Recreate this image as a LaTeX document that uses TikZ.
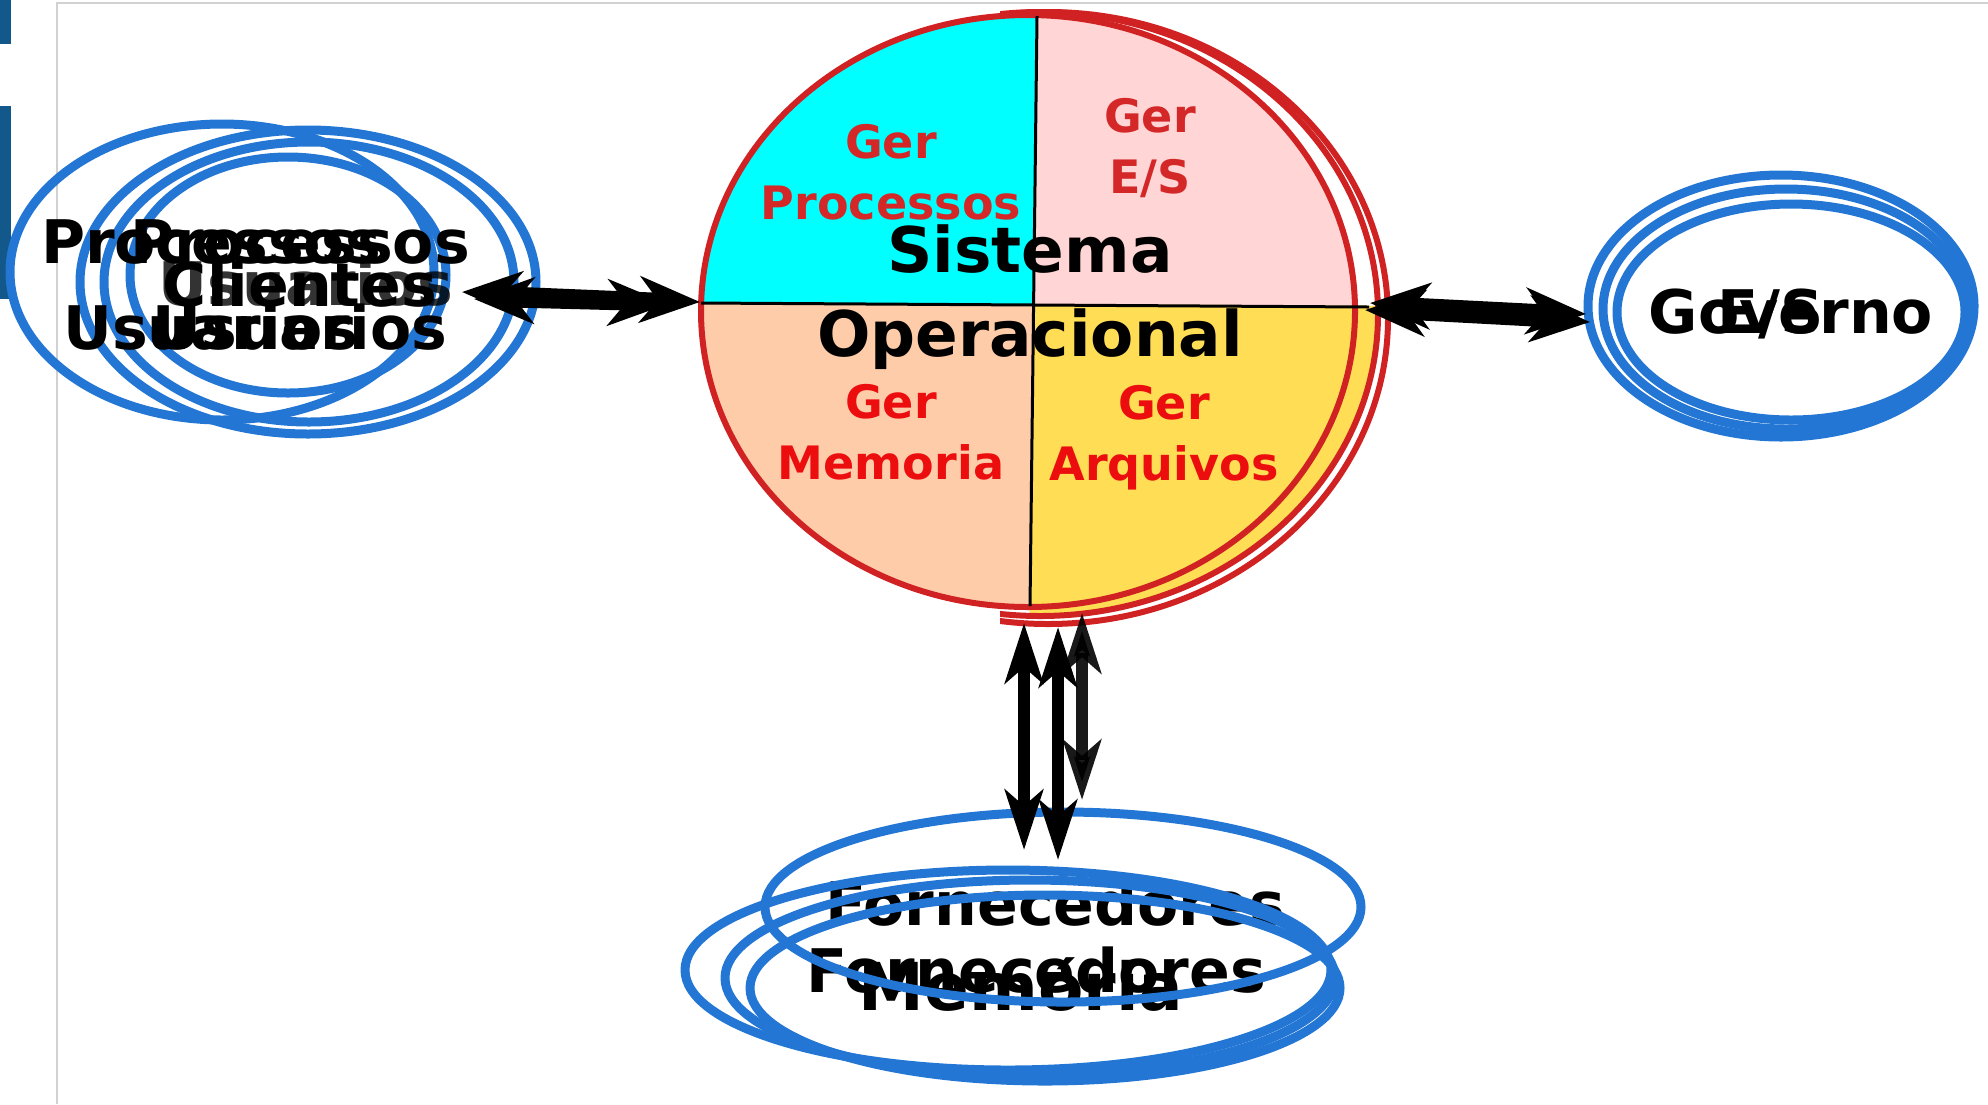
\documentclass[tikz,border=0pt]{standalone}
\usepackage{fontspec}
\setmainfont{DejaVu Sans}
\usetikzlibrary{arrows.meta,shapes.geometric}
\definecolor{blu}{RGB}{35,118,211}
\definecolor{rim}{RGB}{208,34,34}
\definecolor{gtop}{RGB}{212,40,40}
\definecolor{gbot}{RGB}{236,14,14}
\definecolor{qa}{RGB}{0,255,255}
\definecolor{qb}{RGB}{255,213,213}
\definecolor{qc}{RGB}{255,204,170}
\definecolor{qd}{RGB}{255,221,85}
\definecolor{bar}{RGB}{18,88,138}
\newcommand{\ringw}{0.9mm}
\newcommand{\rimw}{0.6mm}
\newcommand{\tightlines}{\lineskiplimit=-100pt\relax}

\begin{document}
\begin{tikzpicture}[x=0.1mm,y=-0.1mm,
    ring/.style={draw=blu, line width=\ringw, ellipse, inner sep=0pt},
    big/.style={font=\bfseries\fontsize{17.1}{12.25}\selectfont\tightlines, align=center, inner sep=0pt},
    quad/.style={font=\bfseries\fontsize{13.1}{17.4}\selectfont, align=center, inner sep=0pt},
    dbl/.style={line width=1.2mm, {Stealth[length=6mm,width=3.8mm,inset=1.6mm]}-{Stealth[length=6mm,width=3.8mm,inset=1.6mm]}},
    wide/.style={line width=1.5mm, {Stealth[length=6mm,width=4.6mm,inset=1.8mm]}-{Stealth[length=6mm,width=4.6mm,inset=1.8mm]}}]
    \useasboundingbox (0,0) rectangle (1988,1104);
    %\draw[help lines] (0,0) grid[step=100] (1988,1104);
        \fill[bar] (0,0) rectangle (11,44);
        \fill[bar] (0,106) rectangle (11,299);
        \draw[black!18, line width=0.2mm] (57,1104) -- (57,3) -- (1988,3);

        % sistema operacional
        \begin{scope}
            \clip (1028,311) ellipse [x radius=32.7mm, y radius=29.6mm];
            \fill[qa] (650,-20) -- (1038,-20) -- (1034,304) -- (650,302) -- cycle;
            \fill[qb] (1038,-20) -- (1420,-20) -- (1420,306) -- (1034,304) -- cycle;
            \fill[qc] (650,302) -- (1034,304) -- (1029,660) -- (650,660) -- cycle;
        \end{scope}
        \begin{scope}
            \clip (1040,314) ellipse [x radius=33.8mm, y radius=30.2mm];
            \fill[qd] (1034,304) -- (1420,306) -- (1420,660) -- (1029,660) -- cycle;
        \end{scope}
        \node[ellipse, draw=rim, line width=\rimw, minimum width=65.4mm, minimum height=59.2mm, inner sep=0pt] (so) at (1028,311) {};
        \begin{scope}
            \clip (1000,-20) rectangle (1450,700);
            \draw[rim, line width=\rimw] (1040,314) ellipse [x radius=33.8mm, y radius=30.2mm];
            \draw[rim, line width=\rimw] (1048,318) ellipse [x radius=34mm, y radius=30.6mm];
        \end{scope}
        \draw[line width=0.3mm] (1037,16) -- (1030,606);
        \draw[line width=0.3mm] (701,303) -- (1369,307);

        \node[quad, text=gtop] (gp) at (891,172) {Ger\\Processos};
        \node[quad, text=gtop] (ge) at (1150,148) {Ger\\E/S};
        \node[quad, text=gbot] (gm) at (891,432) {Ger\\Memoria};
        \node[quad, text=gbot] (ga) at (1164,438) {Ger\\Arquivos};
        \node[big, font=\bfseries\fontsize{17.9}{23.9}\selectfont] (sis) at (1030,297) {Sistema\\Operacional};

        % clientes
        \node[ring, minimum width=42.4mm, minimum height=29.6mm] (l1) at (222,272) {};
        \node[ring, minimum width=45.6mm, minimum height=30.4mm] (l2) at (308,282) {};
        \node[ring, minimum width=41mm, minimum height=28mm] (l3) at (309,282) {};
        \node[ring, minimum width=31.6mm, minimum height=23.6mm] (l4) at (288,275) {};
        \node[big, anchor=north, font=\bfseries\fontsize{17.1}{24.5}\selectfont] (pa) at (211,219) {Processos\\Usuarios};
        \node[big, anchor=north] (pb) at (300,219) {Processos\\Clientes\\Usuarios};
        \node[big, anchor=base, opacity=0.8] (pc) at (306,305) {Usuarios};

        % governo
        \node[ring, minimum width=38.6mm, minimum height=26.2mm] (r1) at (1781,306) {};
        \node[ring, minimum width=36.6mm, minimum height=24mm] (r2) at (1786,309) {};
        \node[ring, minimum width=34.8mm, minimum height=21.6mm] (r3) at (1791,312) {};
        \node[big, anchor=base] (gov) at (1791,333) {Governo};
        \node[big, anchor=base] (es) at (1771,333) {E/S};

        % fornecedores
        \node[big, anchor=base] (f1) at (1055,925) {Fornecedores};
        \node[big, anchor=base] (f2) at (1036,992) {Fornecedores};
        \node[big, anchor=base, font=\bfseries\fontsize{18.8}{20}\selectfont] (mem) at (1021,1010) {Memória};
        \node[ring, minimum width=59.6mm, minimum height=19mm] (b0) at (1063,907) {};
        \node[ring, minimum width=64.6mm, minimum height=20mm] (b1) at (1008,970) {};
        \node[ring, minimum width=61mm, minimum height=19.6mm] (b2) at (1030,978) {};
        \node[ring, minimum width=59mm, minimum height=18.6mm] (b3) at (1045,988) {};

        \coordinate (la) at (462,292);
        \coordinate (lb) at (700,302);
        \coordinate (lc) at (474,299);
        \coordinate (ld) at (668,304);
        \coordinate (ra) at (1365,310);
        \coordinate (rb) at (1590,322);
        \coordinate (rc) at (1370,303);
        \coordinate (rd) at (1586,314);
        \coordinate (da) at (1024,623);
        \coordinate (db) at (1024,850);
        \coordinate (dc) at (1058,627);
        \coordinate (dd) at (1058,860);
        \coordinate (de) at (1082,613);
        \coordinate (df) at (1082,800);

        \draw[wide] (la) -- (lb);
        \draw[wide] (lc) -- (ld);
        \draw[wide] (ra) -- (rb);
        \draw[wide] (rc) -- (rd);
        \draw[dbl] (da) -- (db);
        \draw[dbl] (dc) -- (dd);
        \draw[dbl, opacity=0.9] (de) -- (df);
\end{tikzpicture}
\end{document}
